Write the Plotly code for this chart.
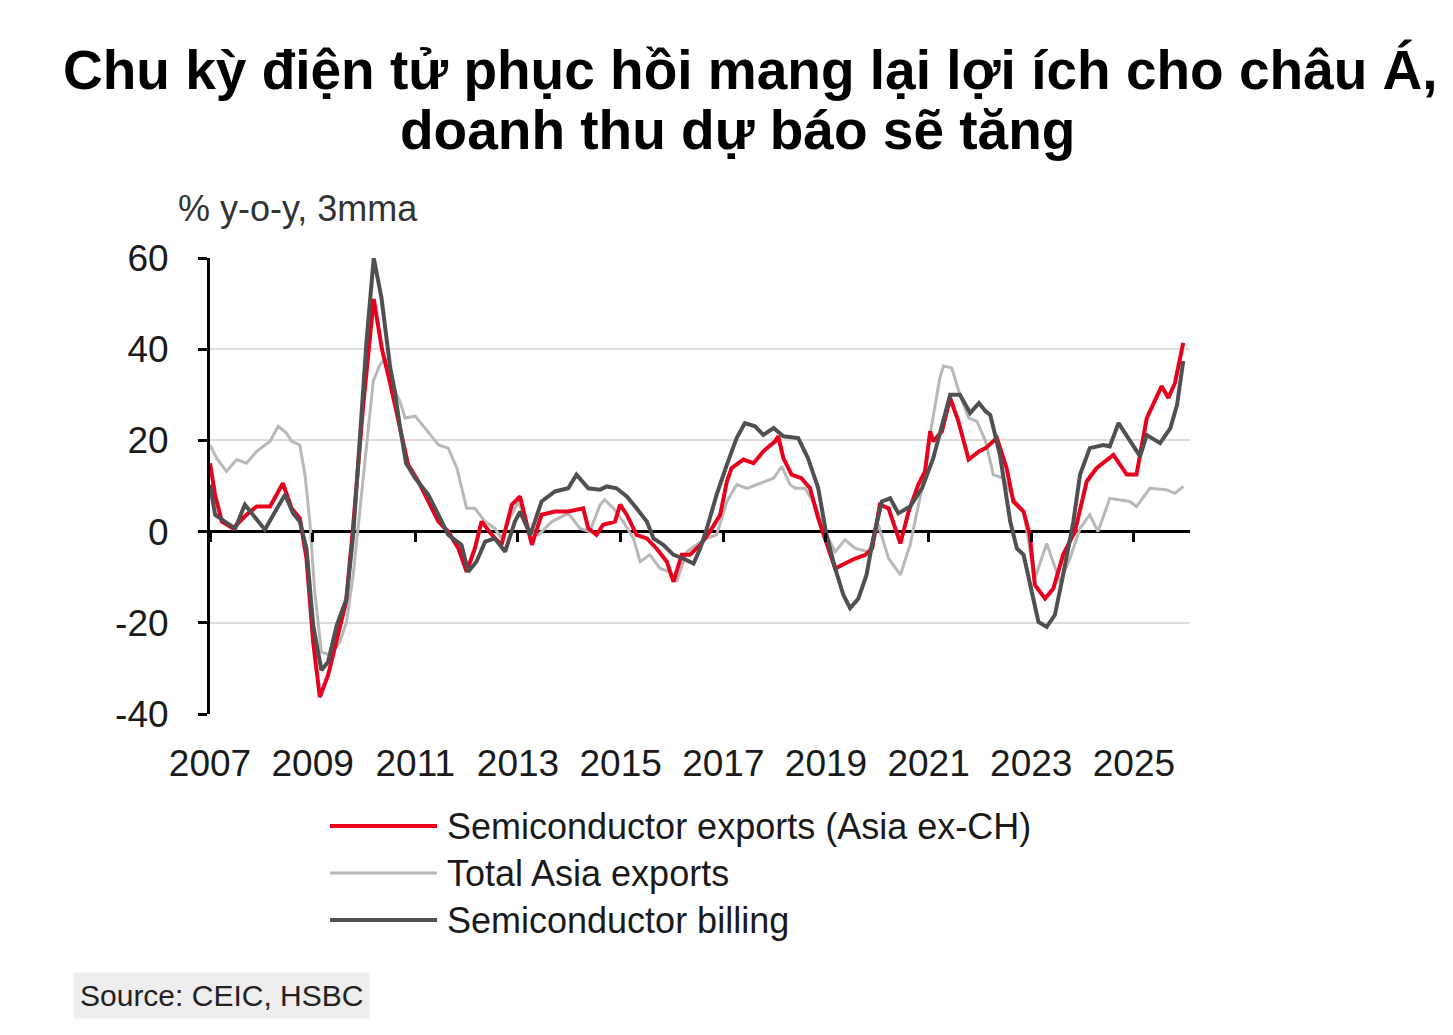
import plotly.graph_objects as go

# ---------------- data (decimal years, % y-o-y 3mma) ----------------
red_x = [2007.00, 2007.10, 2007.23, 2007.45, 2007.71, 2007.91, 2008.17, 2008.42, 2008.59, 2008.75,
         2008.88, 2009.01, 2009.14, 2009.30, 2009.46, 2009.65, 2009.78, 2009.98, 2010.19, 2010.35,
         2010.50, 2010.62, 2010.73, 2010.86, 2011.06, 2011.25, 2011.45, 2011.64, 2011.84, 2012.00,
         2012.16, 2012.29, 2012.49, 2012.68, 2012.88, 2013.04, 2013.17, 2013.27, 2013.46, 2013.72,
         2013.98, 2014.27, 2014.37, 2014.53, 2014.66, 2014.89, 2014.99, 2015.12, 2015.31, 2015.51,
         2015.70, 2015.90, 2016.03, 2016.19, 2016.35, 2016.55, 2016.74, 2016.94, 2017.07, 2017.16,
         2017.39, 2017.59, 2017.78, 2018.01, 2018.07, 2018.17, 2018.33, 2018.52, 2018.69, 2018.85,
         2018.98, 2019.18, 2019.37, 2019.57, 2019.77, 2019.90, 2020.05, 2020.22, 2020.35, 2020.45,
         2020.61, 2020.80, 2020.93, 2021.03, 2021.09, 2021.26, 2021.42, 2021.58, 2021.78, 2021.98,
         2022.11, 2022.33, 2022.52, 2022.65, 2022.85, 2022.97, 2023.07, 2023.27, 2023.43, 2023.62,
         2023.85, 2024.08, 2024.27, 2024.60, 2024.86, 2025.05, 2025.25, 2025.54, 2025.67, 2025.80,
         2025.96]
red_y = [15.0, 8.0, 2.2, 0.7, 3.7, 5.5, 5.5, 10.6, 5.1, 2.9,
         -5.9, -24.2, -36.3, -31.5, -24.2, -15.4, 0.0, 27.1, 51.0, 40.0,
         33.0, 27.0, 22.0, 14.7, 11.0, 6.6, 2.2, 0.0, -3.7, -8.8,
         -3.7, 2.2, -0.7, -2.9, 5.9, 7.7, 1.5, -2.9, 3.7, 4.4,
         4.4, 5.1, 0.7, -0.7, 1.5, 2.2, 5.9, 3.7, -0.7, -1.5,
         -3.7, -6.6, -11.0, -5.1, -5.1, -2.9, 0.0, 3.7, 11.0, 13.9,
         15.8, 15.0, 17.6, 19.8, 20.9, 16.1, 12.5, 11.7, 9.5, 2.9,
         -1.5, -8.1, -7.0, -5.9, -5.1, -3.7, 5.9, 5.1, 0.7, -2.6,
         4.4, 10.3, 13.2, 22.0, 19.8, 22.0, 29.3, 24.2, 15.8, 17.6,
         18.3, 20.5, 13.9, 6.6, 4.4, -0.7, -11.7, -14.7, -12.5, -5.1,
         0.0, 11.0, 13.9, 16.8, 12.5, 12.5, 24.9, 31.9, 29.3, 32.6,
         41.4]

total_x = [2007.00, 2007.13, 2007.32, 2007.52, 2007.71, 2007.91, 2008.17, 2008.33, 2008.49, 2008.59,
           2008.75, 2008.85, 2008.95, 2009.04, 2009.17, 2009.34, 2009.53, 2009.66, 2009.79, 2009.92,
           2010.05, 2010.18, 2010.31, 2010.42, 2010.51, 2010.70, 2010.80, 2011.00, 2011.19, 2011.45,
           2011.64, 2011.81, 2012.00, 2012.16, 2012.36, 2012.55, 2012.68, 2012.84, 2013.01, 2013.20,
           2013.40, 2013.66, 2013.98, 2014.21, 2014.40, 2014.60, 2014.69, 2014.86, 2015.05, 2015.25,
           2015.38, 2015.57, 2015.77, 2015.96, 2016.09, 2016.29, 2016.48, 2016.68, 2016.87, 2017.07,
           2017.26, 2017.46, 2017.72, 2017.98, 2018.14, 2018.30, 2018.40, 2018.59, 2018.79, 2018.98,
           2019.18, 2019.37, 2019.57, 2019.83, 2020.02, 2020.22, 2020.45, 2020.64, 2020.87, 2021.06,
           2021.22, 2021.29, 2021.45, 2021.61, 2021.78, 2021.94, 2022.11, 2022.26, 2022.46, 2022.65,
           2022.85, 2022.97, 2023.07, 2023.30, 2023.56, 2023.75, 2023.95, 2024.14, 2024.30, 2024.53,
           2024.92, 2025.05, 2025.31, 2025.63, 2025.80, 2025.96]
total_y = [19.0, 16.1, 13.2, 15.8, 15.0, 17.6, 19.8, 23.1, 21.6, 19.8,
           19.0, 12.5, 1.5, -13.2, -26.4, -27.1, -24.2, -19.8, -9.5, 5.1,
           19.8, 33.0, 36.6, 38.0, 33.0, 28.6, 24.9, 25.3, 22.7, 19.0,
           18.3, 13.9, 5.1, 5.1, 2.2, 0.7, -1.5, 2.9, 6.6, 0.7,
           -0.7, 2.2, 4.0, 0.7, 0.0, 5.9, 7.0, 5.1, 2.2, -1.5,
           -6.6, -5.1, -8.1, -8.8, -11.0, -4.4, -2.9, -1.5, -0.7, 6.6,
           10.3, 9.5, 10.6, 11.7, 14.3, 10.3, 9.5, 9.5, 5.9, 0.0,
           -4.4, -1.8, -3.7, -4.4, 1.5, -5.9, -9.5, -2.9, 9.5, 23.4,
           33.7, 36.3, 35.9, 30.0, 24.9, 24.2, 19.8, 12.5, 11.7, 7.3,
           4.4, -3.7, -10.3, -2.6, -11.0, -6.0, 0.7, 3.7, 0.0, 7.3,
           6.6, 5.5, 9.5, 9.2, 8.4, 9.9]

bill_x = [2007.00, 2007.10, 2007.29, 2007.49, 2007.68, 2007.84, 2008.07, 2008.27, 2008.46, 2008.62,
          2008.75, 2008.88, 2009.01, 2009.17, 2009.30, 2009.47, 2009.66, 2009.79, 2009.92, 2010.05,
          2010.19, 2010.34, 2010.51, 2010.60, 2010.70, 2010.82, 2011.00, 2011.25, 2011.45, 2011.64,
          2011.90, 2012.03, 2012.19, 2012.36, 2012.55, 2012.75, 2012.94, 2013.04, 2013.24, 2013.46,
          2013.72, 2013.98, 2014.14, 2014.37, 2014.60, 2014.73, 2014.92, 2015.12, 2015.31, 2015.51,
          2015.64, 2015.83, 2016.03, 2016.22, 2016.42, 2016.55, 2016.68, 2016.87, 2017.07, 2017.26,
          2017.42, 2017.62, 2017.78, 2017.98, 2018.17, 2018.46, 2018.65, 2018.85, 2019.01, 2019.18,
          2019.34, 2019.47, 2019.63, 2019.79, 2019.92, 2020.09, 2020.25, 2020.41, 2020.64, 2020.87,
          2021.09, 2021.29, 2021.42, 2021.61, 2021.81, 2021.98, 2022.11, 2022.20, 2022.39, 2022.59,
          2022.72, 2022.85, 2022.97, 2023.14, 2023.30, 2023.46, 2023.62, 2023.82, 2023.95, 2024.14,
          2024.40, 2024.53, 2024.70, 2024.92, 2025.12, 2025.25, 2025.51, 2025.71, 2025.84, 2025.96]
bill_y = [10.3, 3.7, 2.2, 0.7, 5.9, 3.7, 0.4, 4.4, 8.1, 4.0,
          2.2, -3.7, -20.5, -30.4, -28.6, -20.5, -14.7, -0.7, 19.8, 41.8,
          60.0, 51.3, 36.0, 30.8, 23.0, 15.0, 11.7, 8.1, 3.7, -0.7,
          -2.9, -8.8, -6.6, -2.2, -1.5, -4.4, 2.2, 4.4, -0.7, 6.6,
          8.8, 9.5, 12.5, 9.5, 9.2, 9.9, 9.5, 7.7, 5.1, 2.2,
          -1.5, -2.9, -5.1, -5.9, -7.0, -3.7, 0.7, 8.1, 14.7, 20.5,
          23.8, 23.1, 21.2, 22.7, 20.9, 20.5, 16.1, 9.5, -0.7, -8.1,
          -13.9, -16.8, -14.7, -9.5, -1.5, 6.6, 7.3, 4.0, 5.5, 9.5,
          16.1, 24.2, 30.0, 30.0, 26.0, 28.2, 26.4, 25.6, 16.8, 2.2,
          -3.7, -5.1, -11.0, -19.8, -20.9, -18.3, -9.5, 2.2, 12.5, 18.3,
          19.0, 18.7, 23.8, 19.8, 16.5, 21.2, 19.4, 22.7, 27.8, 37.4]

series_names = ["Semiconductor exports (Asia ex-CH)", "Total Asia exports", "Semiconductor billing"]
series_colors = ["#e8001c", "#b8b8b8", "#505050"]
series_widths = [4, 3, 4]

year_ticks = list(range(2007, 2026, 2))
y_ticks = [-40, -20, 0, 20, 40, 60]
y_ticktext = ["-40", "-20", "0", "20", "40", "60"]

title_lines = ["Chu kỳ điện tử phục hồi mang lại lợi ích cho châu Á,", "doanh thu dự báo sẽ tăng"]
unit_text = "% y-o-y, 3mma"
source_text = "Source: CEIC, HSBC"

# ---------------- figure ----------------
W, H = 1453, 1035
L, R, T, B = 210, 263, 258, 321
pw, ph = W - L - R, H - T - B

def px_x(p):
    return (p - L) / pw

def px_y(p):
    return (H - B - p) / ph

FONT = "Liberation Sans, Arial, sans-serif"
TXT = "#1a1a1a"

data_sets = [(red_x, red_y), (total_x, total_y), (bill_x, bill_y)]
fig = go.Figure()
# draw order: total (light), exports (red), billing (dark)
for i in [1, 0, 2]:
    xs, ys = data_sets[i]
    fig.add_trace(go.Scatter(x=xs, y=ys, mode="lines", name=series_names[i],
                             line=dict(color=series_colors[i], width=series_widths[i]),
                             showlegend=False))

fig.update_layout(
    width=W, height=H,
    margin=dict(l=L, r=R, t=T, b=B),
    paper_bgcolor="white", plot_bgcolor="white",
    showlegend=False,
    xaxis=dict(range=[2007, 2007 + (1190 - 210) / 51.33], tickvals=year_ticks,
               ticktext=[str(t) for t in year_ticks], showgrid=False, showline=False,
               zeroline=False, ticks="", tickfont=dict(family=FONT, size=37, color=TXT),
               ticklabelstandoff=24),
    xaxis2=dict(overlaying="x", matches="x", anchor="free", position=0.4, side="bottom",
                tickvals=year_ticks, showticklabels=False, showgrid=False, showline=False,
                zeroline=False, ticks="outside", ticklen=9, tickwidth=3, tickcolor="black"),
    yaxis=dict(range=[-40, 60], tickvals=y_ticks, ticktext=y_ticktext, showgrid=True,
               gridcolor="#dcdcdc", gridwidth=2,
               showline=True, linecolor="black", linewidth=3, ticks="outside", ticklen=9,
               tickwidth=3, tickcolor="black", zeroline=True, zerolinecolor="black",
               zerolinewidth=3, tickfont=dict(family=FONT, size=37, color=TXT),
               ticklabelstandoff=22),
)

# empty trace so the overlay tick axis (ticks along the zero line) is rendered
fig.add_trace(go.Scatter(x=[], y=[], xaxis="x2", yaxis="y", showlegend=False, hoverinfo="skip"))

# title (two centred lines)
for text, cx, cy in [(title_lines[0], 750, 70), (title_lines[1], 737, 130)]:
    fig.add_annotation(text="<b>" + text + "</b>", xref="paper", yref="paper",
                       x=px_x(cx), y=px_y(cy), xanchor="center", yanchor="middle",
                       showarrow=False, font=dict(family=FONT, size=55, color="black"))

# custom legend
legend_rows = [826, 873, 920]
for i, yy in enumerate(legend_rows):
    fig.add_shape(type="line", xref="paper", yref="paper",
                  x0=px_x(330), x1=px_x(437), y0=px_y(yy), y1=px_y(yy),
                  line=dict(color=series_colors[i], width=series_widths[i]))
    fig.add_annotation(text=series_names[i], xref="paper", yref="paper",
                       x=px_x(445), y=px_y(yy), xanchor="left", yanchor="middle",
                       showarrow=False, font=dict(family=FONT, size=36, color=TXT))

# unit label
fig.add_annotation(text=unit_text, xref="paper", yref="paper", x=px_x(176), y=px_y(208),
                   xanchor="left", yanchor="middle", showarrow=False,
                   font=dict(family=FONT, size=36, color="#333333"))

# source
fig.add_annotation(text=source_text, xref="paper", yref="paper", x=px_x(73), y=px_y(995),
                   xanchor="left", yanchor="middle", showarrow=False, bgcolor="#eeeeee",
                   borderpad=6, font=dict(family=FONT, size=30, color="#222222"))

fig.write_html("out.html")
